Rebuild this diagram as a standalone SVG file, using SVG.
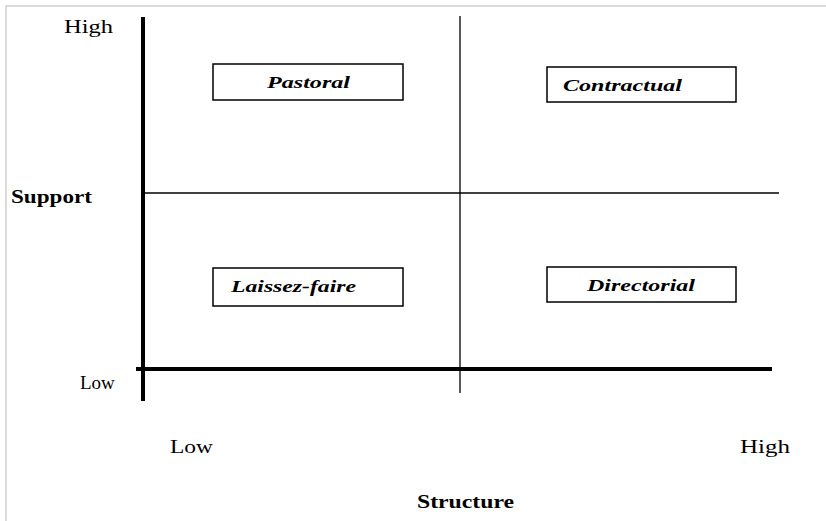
<svg xmlns="http://www.w3.org/2000/svg" width="826" height="521" viewBox="0 0 826 521">
<style>
.lbl{font-family:"Liberation Serif","Times New Roman","DejaVu Serif",serif;font-size:19px;fill:#000}
.b{font-weight:bold}
.node{font-family:"Liberation Serif","Times New Roman","DejaVu Serif",serif;font-size:17px;font-weight:bold;font-style:italic;fill:#000}
.box{fill:#fff;stroke:#000;stroke-width:1.5}
.thick{stroke:#000;stroke-width:4;fill:none}
.thin{stroke:#000;stroke-width:1.3;fill:none}
</style>
<rect width="826" height="521" fill="#fff"/>
<path d="M6 521V6H826" stroke="#d0d0d0" stroke-width="1.5" fill="none"/>
<g id="connectors">
<line class="thin" x1="460" y1="16" x2="460" y2="393"/>
<line class="thin" x1="143" y1="193" x2="779" y2="193"/>
<line class="thick" x1="143" y1="17" x2="143" y2="401"/>
<line class="thick" x1="136" y1="369" x2="772" y2="369"/>
</g>
<g id="labels">
<text class="lbl" x="64" y="33" textLength="49" lengthAdjust="spacingAndGlyphs">High</text>
<text class="lbl b" x="11" y="203" textLength="81" lengthAdjust="spacingAndGlyphs">Support</text>
<text class="lbl" x="80" y="389">Low</text>
<text class="lbl" x="170" y="453" textLength="43" lengthAdjust="spacingAndGlyphs">Low</text>
<text class="lbl" x="740" y="453" textLength="50" lengthAdjust="spacingAndGlyphs">High</text>
<text class="lbl b" x="417" y="508" textLength="97" lengthAdjust="spacingAndGlyphs">Structure</text>
</g>
<g id="pastoral">
<rect class="box" x="213" y="64" width="190" height="36"/>
<text class="node" x="267" y="88" textLength="83" lengthAdjust="spacingAndGlyphs">Pastoral</text>
</g>
<g id="contractual">
<rect class="box" x="547" y="67" width="189" height="35"/>
<text class="node" x="563" y="91" textLength="119" lengthAdjust="spacingAndGlyphs">Contractual</text>
</g>
<g id="laissez-faire">
<rect class="box" x="213" y="268" width="190" height="38"/>
<text class="node" x="231" y="292" textLength="125" lengthAdjust="spacingAndGlyphs">Laissez-faire</text>
</g>
<g id="directorial">
<rect class="box" x="547" y="267" width="189" height="35"/>
<text class="node" x="587" y="291" textLength="108" lengthAdjust="spacingAndGlyphs">Directorial</text>
</g>
</svg>
